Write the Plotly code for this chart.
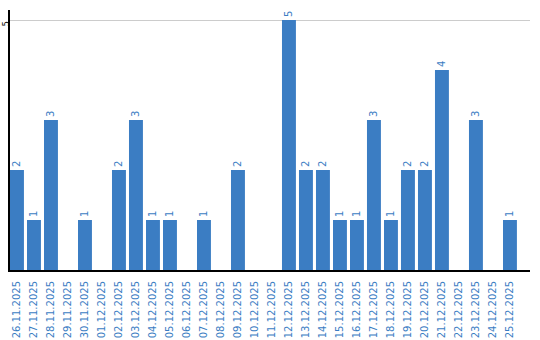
import plotly.graph_objects as go

dates = ["26.11.2025","27.11.2025","28.11.2025","29.11.2025","30.11.2025","01.12.2025",
         "02.12.2025","03.12.2025","04.12.2025","05.12.2025","06.12.2025","07.12.2025",
         "08.12.2025","09.12.2025","10.12.2025","11.12.2025","12.12.2025","13.12.2025",
         "14.12.2025","15.12.2025","16.12.2025","17.12.2025","18.12.2025","19.12.2025",
         "20.12.2025","21.12.2025","22.12.2025","23.12.2025","24.12.2025","25.12.2025"]
values = [2,1,3,0,1,0,2,3,1,1,0,1,0,2,0,0,5,2,2,1,1,3,1,2,2,4,0,3,0,1]

blue = "#3b7dc3"
labels = [str(v) if v else "" for v in values]

fig = go.Figure(go.Bar(
    x=dates, y=values, marker_color=blue, marker_line_width=0,
    text=labels, textposition="outside", textangle=-90,
    textfont=dict(color=blue, size=10, family="DejaVu Sans"),
    cliponaxis=False,
))
fig.update_layout(
    width=540, height=340,
    margin=dict(l=10, r=10, t=10, b=70),
    paper_bgcolor="white", plot_bgcolor="white",
    bargap=0.18, showlegend=False,
    font=dict(family="DejaVu Sans", size=10),
)
fig.update_xaxes(
    type="category", range=[-0.41, 30.18],
    showline=True, linecolor="black", linewidth=2,
    tickangle=-90, tickfont=dict(color=blue, size=10),
    ticks="", showgrid=False, automargin=False, ticklabelstandoff=5,
)
fig.update_yaxes(
    range=[0, 5.2], tickvals=[5], ticktext=["5"], tickangle=-90,
    tickfont=dict(color="black", size=8),
    showline=True, linecolor="black", linewidth=2,
    showgrid=True, gridcolor="#cccccc", gridwidth=1,
    zeroline=False, ticks="", automargin=False, ticklabelstandoff=-4,
    ticklabelshift=5,
)
fig.write_html("out.html")
